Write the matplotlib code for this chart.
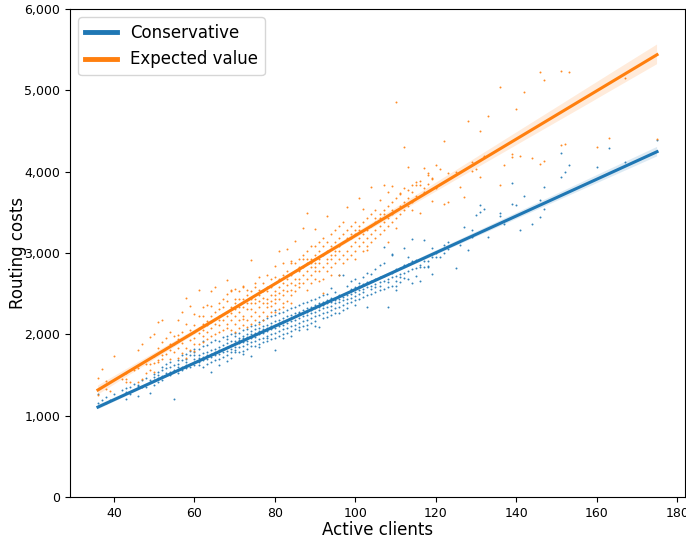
# -*- coding: utf-8 -*-
# routing costs vs active clients, conservative vs expected value estimate
import numpy as np
import matplotlib
matplotlib.use("Agg")
import matplotlib.pyplot as plt
import matplotlib.ticker as mticker
from matplotlib.lines import Line2D
import seaborn as sns

# number of active clients (one entry per column of points)
x_values = [36, 37, 38, 39, 40, 42, 43, 44, 45, 46, 47, 48, 49, 50, 51, 52, 53, 54, 55, 56,
            57, 58, 59, 60, 61, 62, 63, 64, 65, 66, 67, 68, 69, 70, 71, 72, 73, 74, 75, 76,
            77, 78, 79, 80, 81, 82, 83, 84, 85, 86, 87, 88, 89, 90, 91, 92, 93, 94, 95, 96,
            97, 98, 99, 100, 101, 102, 103, 104, 105, 106, 107, 108, 109, 110, 111, 112, 113, 114, 115, 116,
            117, 118, 119, 120, 121, 122, 123, 125, 126, 127, 128, 129, 130, 131, 132, 133, 136, 137, 139, 140,
            141, 142, 144, 146, 147, 151, 152, 153, 160, 163, 167, 175]

# routing costs, conservative estimate (same order as x_values)
cons_points = [
    [1263, 1160], [1190], [1150, 1230], [1190], [1270], [1320], [1337, 1210, 1290], [1266, 1350], [1390],
    [1242, 1377, 1370], [1356, 1440], [1460, 1350], [1275, 1438, 1420], [1480, 1380, 1440, 1510],
    [1460, 1540, 1420, 1500], [1490, 1560, 1600, 1440], [1520, 1580, 1640], [1500, 1600, 1660, 1540],
    [1201, 1620, 1560], [1560, 1640, 1690, 1520, 1600], [1600, 1680, 1740, 1560],
    [1620, 1700, 1760, 1580, 1660], [1640, 1740, 1600, 1790], [1660, 1740, 1820, 1620, 1700, 1780],
    [1660, 1740, 1820, 1620, 1710], [1680, 1770, 1860, 1600, 1720, 1920], [1700, 1780, 1640, 1870, 1740],
    [1720, 1810, 1900, 1660, 1760, 1540], [1740, 1820, 1680, 1930, 1780], [1760, 1850, 1700, 1920, 1810, 1620],
    [1780, 1870, 1720, 1970, 1820], [1800, 1890, 1740, 1980, 1850, 1670, 1940], [1704, 1820, 1920, 1780, 2000, 1870],
    [1840, 1920, 1780, 2020, 1890, 1980, 1810], [1840, 1930, 1780, 2020, 1890, 1960],
    [1860, 1950, 1800, 2050, 1900, 1980, 1760], [1880, 1970, 1820, 2070, 1920, 2000],
    [1734, 1900, 2000, 2100, 1950, 1860, 2040], [1920, 2020, 1860, 2120, 1970, 2060],
    [1940, 2040, 1880, 2150, 2000, 2080, 1840], [1960, 2060, 1900, 2180, 2020, 2100],
    [1980, 2080, 1920, 2200, 2040, 2120, 1960], [2000, 2100, 1940, 2220, 2060, 2140],
    [2020, 2120, 1960, 2240, 2080, 2160, 1807, 2300], [2040, 2140, 1980, 2260, 2100, 2180],
    [2060, 2160, 2000, 2280, 2120, 2200, 1950], [2080, 2180, 2020, 2300, 2140, 2220],
    [2100, 2200, 2040, 2320, 2160, 2240, 1980], [2120, 2220, 2060, 2340, 2180, 2260],
    [2140, 2258, 2094, 2360, 2200, 2280, 2050], [2160, 2260, 2100, 2380, 2220, 2300],
    [2180, 2280, 2120, 2400, 2240, 2320, 2060], [2200, 2300, 2140, 2420, 2260, 2340],
    [2220, 2320, 2160, 2440, 2280, 2360, 2100], [2094, 2240, 2340, 2460, 2300, 2380],
    [2260, 2360, 2200, 2480, 2320, 2400], [2217, 2280, 2380, 2500, 2340, 2420],
    [2300, 2400, 2565, 2350, 2240, 2450], [2320, 2420, 2260, 2520, 2380],
    [2258, 2340, 2440, 2729, 2400, 2480], [2360, 2460, 2729, 2420, 2300], [2380, 2480, 2320, 2600, 2440],
    [2401, 2500, 2560, 2450, 2650], [2420, 2520, 2580, 2470, 2680, 2360], [2440, 2627, 2540, 2600, 2500],
    [2460, 2560, 2620, 2520, 2700], [2340, 2480, 2580, 2640, 2750], [2500, 2741, 2600, 2660, 2560],
    [2516, 2620, 2680, 2800, 2580], [2540, 2640, 2700, 2600, 2850], [2560, 2872, 2660, 3078, 2720],
    [2340, 2580, 2680, 2740, 2640], [2975, 2600, 2700, 2988, 2760], [2545, 2594, 2720, 2800, 2650],
    [2640, 2740, 2820, 2700], [2689, 3066, 2760, 2850], [2680, 2955, 2780, 2870], [3168, 2635, 2800, 2900],
    [2720, 2820, 2920], [2656, 2832, 2850], [3160, 2832, 2902], [2844, 2832, 2900], [3058, 2738, 2950],
    [2947, 3000], [3037, 2950], [2996, 3100], [3139, 3050], [2812], [3100], [3325], [3037], [3283, 3200],
    [3467], [3590, 3508], [3545], [3200], [3496, 3455], [3357], [3857, 3603], [3590], [3283], [3700],
    [3357], [3652, 3439], [3808, 3537], [4226, 3939], [4000], [4086], [4062], [4288], [4115], [4390],
]

# routing costs, expected value (same order as x_values)
exp_points = [
    [1467, 1260], [1574], [1430, 1330], [1300], [1734], [1450], [1418, 1450, 1530], [1562, 1420], [1560],
    [1808, 1410, 1580], [1881, 1450], [1630, 1520], [1971, 1562, 1630], [2000, 1540, 1650, 1730],
    [2155, 1664, 1690, 1830], [2180, 1700, 1750, 1900], [1760, 1830, 1950], [1880, 2030, 1700, 1810],
    [1780, 1880, 1980], [2180, 1830, 1940, 1710, 1990], [2278, 1890, 1770, 2030],
    [2443, 1830, 1980, 2130, 1710], [2350, 1930, 1810, 2050], [2250, 1880, 2030, 1950, 1790, 2110],
    [2545, 2012, 2080, 2230, 1880], [2130, 1980, 2330, 2050, 1910, 2230], [2361, 2030, 2170, 1940, 2110],
    [2537, 2080, 2230, 1980, 2150, 2350], [2578, 2130, 2280, 2010, 2190], [2230, 2110, 2380, 2030, 2310, 2180],
    [2330, 2180, 2050, 2430, 2250], [2668, 2130, 2280, 2410, 2080, 2490, 2230], [2545, 2180, 2330, 2050, 2530, 2260],
    [2553, 2030, 2230, 2380, 2130, 2310, 2430], [2330, 2180, 2530, 2280, 2080, 2430],
    [2594, 2110, 2330, 2230, 2430, 2580, 2190], [2380, 2180, 2480, 2094, 2310, 2550],
    [2914, 2230, 2380, 2530, 2130, 2430, 2310], [2430, 2280, 2580, 2180, 2380, 2630],
    [2709, 2330, 2480, 2230, 2410, 2550, 2130], [2530, 2380, 2280, 2630, 2450, 2180],
    [2730, 2430, 2330, 2530, 2230, 2580, 2380], [2580, 2410, 2280, 2680, 2480, 2350],
    [2840, 2530, 2380, 2630, 2280, 2700, 2430, 2480], [3029, 2580, 2430, 2310, 2680, 2510],
    [2873, 2630, 2480, 2380, 2730, 2550, 2330], [3045, 2680, 2530, 2410, 2780, 2610],
    [2900, 2630, 2480, 2730, 2550, 2380, 2880], [3152, 2680, 2530, 2780, 2610, 2880],
    [2790, 2580, 2830, 2930, 2680, 2780, 2630], [3304, 2930, 2730, 2630, 2830, 2980],
    [3495, 2545, 2780, 2880, 2680, 3030, 2930], [2830, 2630, 2930, 3080, 2730, 2880],
    [3300, 2880, 2680, 2980, 2780, 3080, 2830], [2650, 2930, 3030, 2780, 3130, 2880],
    [2504, 2676, 2980, 3080, 2830, 3180], [3459, 2930, 3030, 2780, 3130, 2880],
    [2980, 3080, 2830, 3230, 2930, 2730], [3030, 3130, 2880, 3280, 2980],
    [2729, 3080, 3180, 2930, 3330, 3030], [3130, 3230, 2980, 3380, 2880], [3569, 3180, 3030, 3280, 2930],
    [3230, 3080, 3330, 2980, 3180], [3280, 3130, 3380, 3030, 2930, 3230], [3680, 3180, 3330, 3080, 3280],
    [3540, 3230, 3130, 3380, 3030], [3036, 3280, 3180, 3430, 3080], [3807, 3330, 3230, 3480, 3130],
    [3180, 3380, 3280, 3530, 3430], [3651, 3330, 3480, 3230, 3430], [3832, 3380, 3530, 3280, 3480],
    [3754, 3139, 3430, 3580, 3330], [3823, 3480, 3380, 3630, 3530], [4860, 3303, 3530, 3430, 3680],
    [3741, 3480, 3580, 3730], [4307, 3795, 3530, 3630], [4062, 3580, 3680, 3780], [3754, 3630, 3530, 3830],
    [3877, 3836, 3700], [3836, 3889, 3496], [4049, 3795, 3750], [3980, 3959, 3850], [3910, 3643, 3918],
    [4082, 3800], [4029, 3850], [4377, 3599], [3980, 3631], [4000], [3815], [3692], [4627], [4123, 4012],
    [4029], [4500, 3939], [4192], [4688], [5045, 3836], [4082], [4223, 4184], [4767], [4192], [4983],
    [4168], [5222, 4100], [5127, 4135], [5238, 4332], [4340], [5230], [4300], [4410], [5150], [4402],
]

clients_c = [x for x, pts in zip(x_values, cons_points) for _ in pts]
costs_c = [v for pts in cons_points for v in pts]
clients_e = [x for x, pts in zip(x_values, exp_points) for _ in pts]
costs_e = [v for pts in exp_points for v in pts]

blue = "#1f77b4"
orange = "#ff7f0e"

fig = plt.figure(figsize=(6.86, 5.43), dpi=100)
ax = fig.add_axes([70/686, 1-497/543, 615/686, 488/543])

sns.regplot(x=np.array(clients_c), y=np.array(costs_c), ax=ax, color=blue,
            scatter_kws={"s": 2, "linewidths": 0, "alpha": 0.9},
            line_kws={"lw": 2.2})
sns.regplot(x=np.array(clients_e), y=np.array(costs_e), ax=ax, color=orange,
            scatter_kws={"s": 2, "linewidths": 0, "alpha": 0.9},
            line_kws={"lw": 2.2})

ax.set_xlim(29.05, 181.95)
ax.set_ylim(0, 6000)
ax.set_xticks([40, 60, 80, 100, 120, 140, 160, 180])
ax.set_yticks([0, 1000, 2000, 3000, 4000, 5000, 6000])
ax.yaxis.set_major_formatter(mticker.FuncFormatter(lambda v, p: "{:,.0f}".format(v)))
ax.tick_params(labelsize=9)
ax.set_xlabel("Active clients", fontsize=12)
ax.set_ylabel("Routing costs", fontsize=12)
ax.xaxis.set_label_coords(0.5, -0.05)
ax.yaxis.set_label_coords(-0.07, 0.5)

handles = [Line2D([0], [0], color=blue, lw=3.5), Line2D([0], [0], color=orange, lw=3.5)]
ax.legend(handles, ["Conservative", "Expected value"], loc="upper left", fontsize=12,
          handlelength=1.9)

fig.savefig("out.png", dpi=100)
